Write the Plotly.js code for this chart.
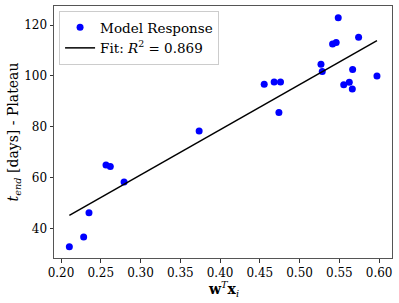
<!DOCTYPE html>
<html>
<head>
<meta charset="utf-8">
<script src="https://cdn.plot.ly/plotly-3.0.1.min.js"></script>
<style>html,body{margin:0;padding:0;background:#fff;}#chart{width:399px;height:303px;}</style>
</head>
<body>
<div id="chart"></div>
<script>
const modelX = [0.2105, 0.2285, 0.2352, 0.2566, 0.2620, 0.2793, 0.3737, 0.4555, 0.4680, 0.4760, 0.4740, 0.5269, 0.5285, 0.5415, 0.5460, 0.5486, 0.5742, 0.5667, 0.5555, 0.5625, 0.5663, 0.5973];
const modelY = [32.8, 36.7, 46.2, 65.0, 64.4, 58.3, 78.3, 96.7, 97.6, 97.6, 85.6, 104.6, 101.7, 112.6, 113.1, 122.9, 115.2, 102.5, 96.5, 97.5, 94.9, 100.0];
const fitX = [0.2105, 0.5973];
const fitY = [45.2, 113.9];
const xTicks = [0.20, 0.25, 0.30, 0.35, 0.40, 0.45, 0.50, 0.55, 0.60];
const xTickText = ["0.20", "0.25", "0.30", "0.35", "0.40", "0.45", "0.50", "0.55", "0.60"];
const yTicks = [40, 60, 80, 100, 120];

const font = {family: "DejaVu Serif", size: 12, color: "#000"};
const traces = [
  {x: modelX, y: modelY, mode: "markers", type: "scatter", name: "Model Response",
   marker: {color: "#0000ff", size: 7}},
  {x: fitX, y: fitY, mode: "lines", type: "scatter", name: "Fit: <i>R</i><sup>2</sup> = 0.869",
   line: {color: "#000", width: 1.5}}
];
const layout = {
  width: 399, height: 303,
  margin: {l: 54, r: 7, t: 6, b: 45},
  paper_bgcolor: "#fff", plot_bgcolor: "#fff",
  font: font,
  showlegend: true,
  legend: {x: 0.015, y: 0.98, xanchor: "left", yanchor: "top",
    bgcolor: "rgba(255,255,255,0.8)", bordercolor: "#cccccc", borderwidth: 1,
    font: {family: "DejaVu Serif", size: 13.5, color: "#000"}, tracegroupgap: 0},
  xaxis: {range: [0.1912, 0.6162], tickvals: xTicks, ticktext: xTickText,
    showgrid: false, zeroline: false, showline: true, linecolor: "#555", linewidth: 1, mirror: true,
    ticks: "outside", ticklen: 3.5, tickwidth: 1, tickcolor: "#333",
    tickfont: font},
  yaxis: {range: [28.4, 127.5], tickvals: yTicks,
    showgrid: false, zeroline: false, showline: true, linecolor: "#555", linewidth: 1, mirror: true,
    ticks: "outside", ticklen: 3.5, tickwidth: 1, tickcolor: "#333",
    tickfont: font,
    title: {text: "<i>t</i><sub><i>end</i></sub> [days] - Plateau", font: {family: "DejaVu Serif", size: 14, color: "#000"}, standoff: 2}},
  annotations: [
    {text: "<b>w</b><sup><i>T</i></sup><b>x</b><sub><i>i</i></sub>", xref: "paper", yref: "paper",
     x: 0.5, y: 0, xanchor: "center", yanchor: "top", yshift: -19, showarrow: false,
     font: {family: "DejaVu Serif", size: 14, color: "#000"}}
  ]
};
Plotly.newPlot("chart", traces, layout, {displayModeBar: false, staticPlot: true});
</script>
</body>
</html>
